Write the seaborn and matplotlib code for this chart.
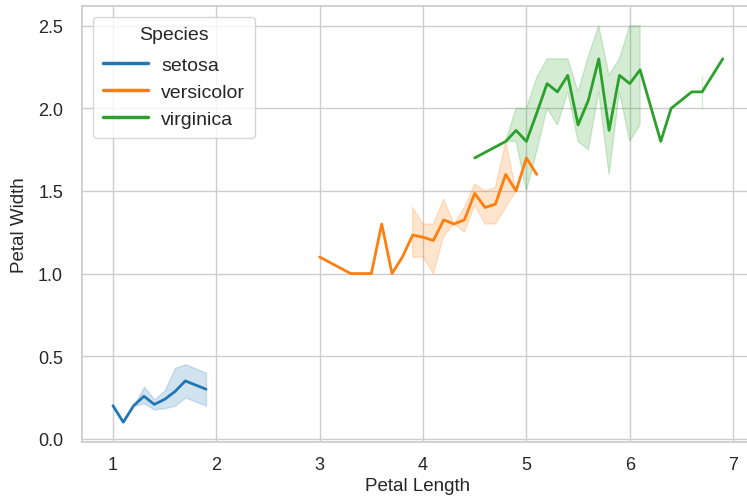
import numpy as np
import pandas as pd
import seaborn as sns
import matplotlib
matplotlib.use("Agg")
import matplotlib.pyplot as plt

# Iris petal measurements (cm), grouped by species
setosa_length = [1.4, 1.4, 1.3, 1.5, 1.4, 1.7, 1.4, 1.5, 1.4, 1.5,
                 1.5, 1.6, 1.4, 1.1, 1.2, 1.5, 1.3, 1.4, 1.7, 1.5,
                 1.7, 1.5, 1.0, 1.7, 1.9, 1.6, 1.6, 1.5, 1.4, 1.6,
                 1.6, 1.5, 1.5, 1.4, 1.5, 1.2, 1.3, 1.4, 1.3, 1.5,
                 1.3, 1.3, 1.3, 1.6, 1.9, 1.4, 1.6, 1.4, 1.5, 1.4]
setosa_width = [0.2, 0.2, 0.2, 0.2, 0.2, 0.4, 0.3, 0.2, 0.2, 0.1,
                0.2, 0.2, 0.1, 0.1, 0.2, 0.4, 0.4, 0.3, 0.3, 0.3,
                0.2, 0.4, 0.2, 0.5, 0.2, 0.2, 0.4, 0.2, 0.2, 0.2,
                0.2, 0.4, 0.1, 0.2, 0.2, 0.2, 0.2, 0.1, 0.2, 0.2,
                0.3, 0.3, 0.2, 0.6, 0.4, 0.3, 0.2, 0.2, 0.2, 0.2]

versicolor_length = [4.7, 4.5, 4.9, 4.0, 4.6, 4.5, 4.7, 3.3, 4.6, 3.9,
                     3.5, 4.2, 4.0, 4.7, 3.6, 4.4, 4.5, 4.1, 4.5, 3.9,
                     4.8, 4.0, 4.9, 4.7, 4.3, 4.4, 4.8, 5.0, 4.5, 3.5,
                     3.8, 3.7, 3.9, 5.1, 4.5, 4.5, 4.7, 4.4, 4.1, 4.0,
                     4.4, 4.6, 4.0, 3.3, 4.2, 4.2, 4.2, 4.3, 3.0, 4.1]
versicolor_width = [1.4, 1.5, 1.5, 1.3, 1.5, 1.3, 1.6, 1.0, 1.3, 1.4,
                    1.0, 1.5, 1.0, 1.4, 1.3, 1.4, 1.5, 1.0, 1.5, 1.1,
                    1.8, 1.3, 1.5, 1.2, 1.3, 1.4, 1.4, 1.7, 1.5, 1.0,
                    1.1, 1.0, 1.2, 1.6, 1.5, 1.6, 1.5, 1.3, 1.3, 1.3,
                    1.2, 1.4, 1.2, 1.0, 1.3, 1.2, 1.3, 1.3, 1.1, 1.3]

virginica_length = [6.0, 5.1, 5.9, 5.6, 5.8, 6.6, 4.5, 6.3, 5.8, 6.1,
                    5.1, 5.3, 5.5, 5.0, 5.1, 5.3, 5.5, 6.7, 6.9, 5.0,
                    5.7, 4.9, 6.7, 4.9, 5.7, 6.0, 4.8, 4.9, 5.6, 5.8,
                    6.1, 6.4, 5.6, 5.1, 5.6, 6.1, 5.6, 5.5, 4.8, 5.4,
                    5.6, 5.1, 5.1, 5.9, 5.7, 5.2, 5.0, 5.2, 5.4, 5.1]
virginica_width = [2.5, 1.9, 2.1, 1.8, 2.2, 2.1, 1.7, 1.8, 1.8, 2.5,
                   2.0, 1.9, 2.1, 2.0, 2.4, 2.3, 1.8, 2.2, 2.3, 1.5,
                   2.3, 2.0, 2.0, 1.8, 2.1, 1.8, 1.8, 1.8, 2.1, 1.6,
                   1.9, 2.0, 2.2, 1.5, 1.4, 2.3, 2.4, 1.8, 1.8, 2.1,
                   2.4, 2.3, 1.9, 2.3, 2.5, 2.3, 1.9, 2.0, 2.3, 1.8]

species_names = ["setosa", "versicolor", "virginica"]

df = pd.DataFrame({
    "petal_length": setosa_length + versicolor_length + virginica_length,
    "petal_width": setosa_width + versicolor_width + virginica_width,
    "species": [species_names[0]] * len(setosa_length)
               + [species_names[1]] * len(versicolor_length)
               + [species_names[2]] * len(virginica_length),
})

sns.set_theme(style="whitegrid")
plt.rcParams["font.family"] = ["Arial", "Liberation Sans", "DejaVu Sans"]

fig = plt.figure(figsize=(7.47, 5.02), dpi=100)
ax = fig.add_axes([0.1104, 0.1175, 0.898, 0.8686])

sns.lineplot(data=df, x="petal_length", y="petal_width", hue="species",
             palette="tab10", linewidth=2, seed=1, ax=ax)

ax.set_xlabel("Petal Length", fontsize=13.5, labelpad=3)
ax.set_ylabel("Petal Width", fontsize=13.5, labelpad=7)
ax.tick_params(axis="y", labelsize=13, pad=8)
ax.tick_params(axis="x", labelsize=13, pad=4)
ax.set_xticks([1, 2, 3, 4, 5, 6, 7])
ax.set_yticks([0.0, 0.5, 1.0, 1.5, 2.0, 2.5])

leg = ax.legend(title="Species", loc="upper left", fontsize=14, title_fontsize=14,
                handlelength=2.3, handletextpad=0.7, labelspacing=0.5,
                borderpad=0.5, borderaxespad=0.55)
leg._legend_box.sep = 9
for line in leg.get_lines():
    line.set_linewidth(2.5)

fig.savefig("out.png", dpi=100)
